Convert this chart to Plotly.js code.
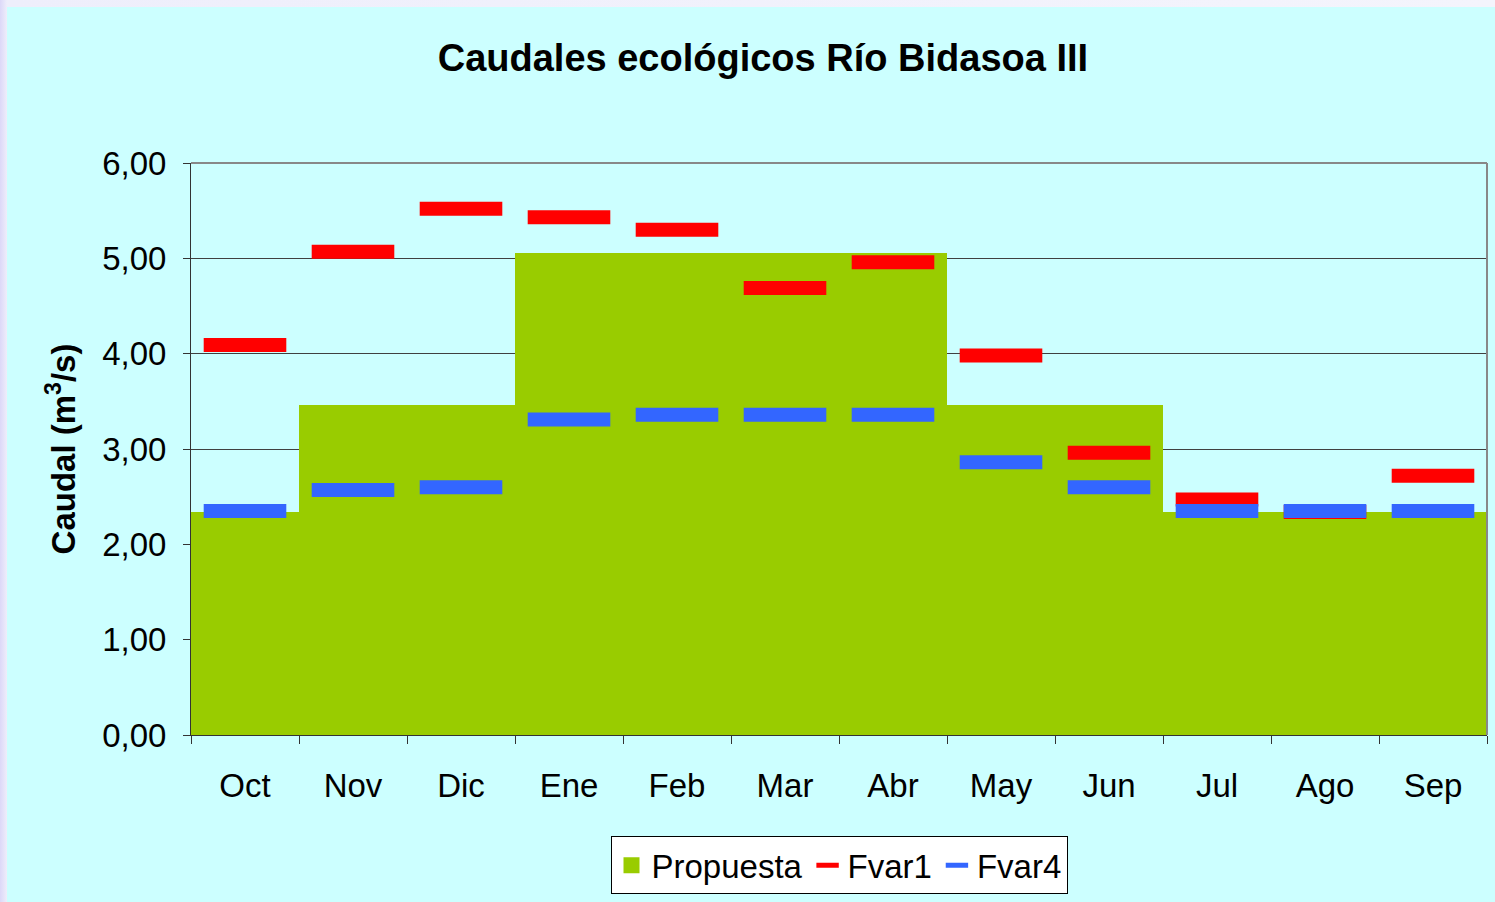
<!DOCTYPE html>
<html>
<head>
<meta charset="utf-8">
<script src="https://cdn.plot.ly/plotly-3.0.1.min.js"></script>
<style>
html, body { margin:0; padding:0; width:1495px; height:902px; overflow:hidden;
  background: linear-gradient(90deg, #DCD8F8 0px, #EEEEFB 7px, #F4F4FC 100%); }
#chart { position:absolute; left:7px; top:7px; width:1488px; height:895px; }
</style>
</head>
<body>
<div id="chart"></div>
<script>
const months = ["Oct","Nov","Dic","Ene","Feb","Mar","Abr","May","Jun","Jul","Ago","Sep"];
const propuesta = [2.34, 3.46, 3.46, 5.06, 5.06, 5.06, 5.06, 3.46, 3.46, 2.34, 2.34, 2.34];
const fvar1 = [4.09, 5.07, 5.52, 5.43, 5.30, 4.69, 4.96, 3.98, 2.96, 2.47, 2.34, 2.72];
const fvar4 = [2.35, 2.57, 2.60, 3.31, 3.36, 3.36, 3.36, 2.86, 2.60, 2.35, 2.35, 2.35];

const FONT = "Liberation Sans, Arial, sans-serif";
const GREEN = "#99CC00";

const traces = [
  { type:"scatter", mode:"markers", name:"Propuesta", x:[null], y:[null],
    marker:{symbol:"square", size:16, color:GREEN}, hoverinfo:"skip" },
  { type:"bar", name:"Propuesta", x:months, y:propuesta, width:1, showlegend:false,
    marker:{color:GREEN, line:{width:0}}, hoverinfo:"skip" },
  { type:"scatter", mode:"markers", name:"Fvar1", x:months, y:fvar1,
    marker:{symbol:"line-ew", size:59, color:"#FF0000", line:{color:"#FF0000", width:14}}, hoverinfo:"skip" },
  { type:"scatter", mode:"markers", name:"Fvar4", x:months, y:fvar4,
    marker:{symbol:"line-ew", size:59, color:"#3366FF", line:{color:"#3366FF", width:14}}, hoverinfo:"skip" }
];

const layout = {
  width:1488, height:895,
  paper_bgcolor:"#CCFFFF", plot_bgcolor:"#CCFFFF",
  margin:{l:184, r:8, t:156, b:164},
  separators:",.",
  font:{family:FONT, color:"#000", size:33},
  title:{text:"<b>Caudales ecológicos Río Bidasoa III</b>", font:{family:FONT, size:38, color:"#000"},
    x:0.508, xanchor:"center", y:0.943, yanchor:"middle"},
  bargap:0,
  showlegend:true,
  legend:{orientation:"h", x:0.5, xanchor:"center", y:-0.177, yanchor:"top",
    bgcolor:"#FFFFFF", bordercolor:"#000", borderwidth:1,
    font:{family:FONT, size:33, color:"#000"}, traceorder:"normal"},
  xaxis:{type:"category", range:[-0.5, 11.5], autorange:false, showgrid:false, showline:true, linecolor:"#333", linewidth:1,
    ticks:"outside", tickson:"boundaries", ticklen:8, tickcolor:"#333",
    ticklabelstandoff:21, tickfont:{family:FONT, size:33}, zeroline:false, fixedrange:true},
  yaxis:{range:[0,6], dtick:1, tickformat:".2f", showgrid:true, gridcolor:"#404040", gridwidth:1,
    showline:true, linecolor:"#333", linewidth:1, ticks:"outside", ticklen:7, tickcolor:"#333",
    ticklabelstandoff:10, tickfont:{family:FONT, size:33}, zeroline:false, fixedrange:true,
    title:{text:"<b>Caudal (m<sup>3</sup>/s)</b>", font:{family:FONT, size:33}, standoff:16}},
  shapes:[
    {type:"line", xref:"paper", yref:"paper", x0:0, x1:1, y0:1, y1:1, line:{color:"#888", width:2}},
    {type:"line", xref:"paper", yref:"paper", x0:1, x1:1, y0:0, y1:1, line:{color:"#888", width:2}}
  ]
};

Plotly.newPlot("chart", traces, layout, {displayModeBar:false, staticPlot:true});
</script>
</body>
</html>
